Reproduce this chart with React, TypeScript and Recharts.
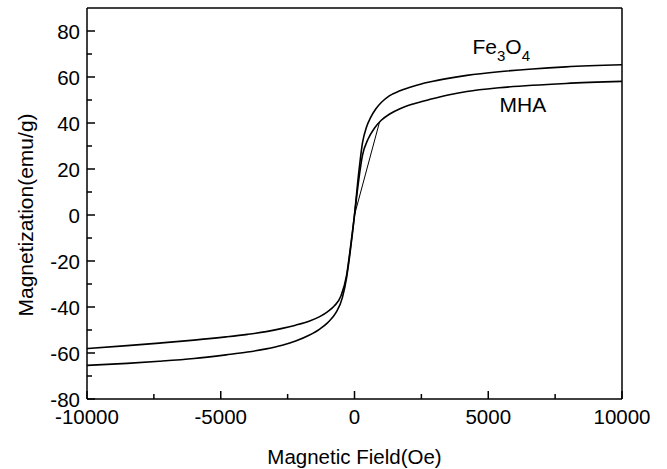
import React from 'react';
import { LineChart, Line, XAxis, YAxis, ReferenceLine, ReferenceDot } from 'recharts';

const xTicks = [-10000, -7500, -5000, -2500, 0, 2500, 5000, 7500, 10000];
const yTicks = [-80, -70, -60, -50, -40, -30, -20, -10, 0, 10, 20, 30, 40, 50, 60, 70, 80];

const fe3o4X = [-10000, -8500, -7300, -6000, -4800, -4000, -3300, -2700, -2200, -1700, -1300, -1000, -700, -450, -300, -150, 0, 150, 300, 450, 600, 800, 1000, 1300, 1700, 2200, 2800, 3500, 4200, 5400, 6650, 7900, 10000];
const fe3o4Y = [-65.4, -64.5, -63.6, -62.4, -60.8, -59.6, -58.2, -56.6, -54.8, -52.3, -49.6, -46.8, -42.6, -35.8, -27.5, -15, 0, 17.5, 31.5, 38.3, 42.3, 46.2, 48.9, 51.8, 54.0, 56.0, 57.8, 59.4, 60.7, 62.3, 63.5, 64.4, 65.3];

const mhaX = [-10000, -8500, -7300, -6000, -4800, -4000, -3300, -2700, -2200, -1700, -1300, -1000, -750, -500, -300, -150, 0, 150, 300, 500, 750, 1000, 1300, 1700, 2200, 2800, 3500, 4200, 5400, 6650, 7900, 10000];
const mhaY = [-58.1, -56.8, -55.7, -54.4, -53.0, -51.9, -50.7, -49.3, -47.9, -46.2, -44.2, -42.0, -39.5, -35, -26.5, -14, 0, 14.5, 26, 32.8, 37.8, 41.2, 43.8, 46.2, 48.3, 50.2, 52.2, 53.7, 55.3, 56.4, 57.2, 58.1];

const mhaInitX = [0, 935];
const mhaInitY = [0, 40.4];

const zip = (xs: number[], ys: number[]) => xs.map((x, i) => ({ x, y: ys[i] }));
const fe3o4Data = zip(fe3o4X, fe3o4Y);
const mhaData = zip(mhaX, mhaY);
const mhaInitData = zip(mhaInitX, mhaInitY);

const FONT = '"Liberation Sans", Arial, sans-serif';

const XTick = (props: any) => {
  const { x, y, payload } = props;
  const major = payload.value % 5000 === 0;
  return (
    <g>
      <line x1={x} y1={y} x2={x} y2={y - (major ? 8 : 5)} stroke="#000" strokeWidth={1.5} />
      {major && (
        <text x={x} y={y + 25} textAnchor="middle" fontFamily={FONT} fontSize={20.5} fill="#000">
          {payload.value}
        </text>
      )}
    </g>
  );
};

const YTick = (props: any) => {
  const { x, y, payload } = props;
  const major = payload.value % 20 === 0;
  return (
    <g>
      <line x1={x} y1={y} x2={x + (major ? 8 : 5)} y2={y} stroke="#000" strokeWidth={1.5} />
      {major && (
        <text x={x - 7} y={y + 7.5} textAnchor="end" fontFamily={FONT} fontSize={20.5} fill="#000">
          {payload.value}
        </text>
      )}
    </g>
  );
};

const XTitle = (props: any) => {
  const vb = props.viewBox;
  return (
    <text x={vb.x + vb.width / 2} y={vb.y + 65} textAnchor="middle" fontFamily={FONT} fontSize={20.5} fill="#000">
      Magnetic Field(Oe)
    </text>
  );
};

const YTitle = () => (
  <text x={33} y={215} transform="rotate(-90 33 215)" textAnchor="middle" fontFamily={FONT} fontSize={21} fill="#000">
    Magnetization(emu/g)
  </text>
);

const FeLabel = (props: any) => (
  <text x={props.cx} y={props.cy} fontFamily={FONT} fontSize={21} fill="#000">
    Fe<tspan dy={7} fontSize={15}>3</tspan>
    <tspan dy={-7} fontSize={21}>O</tspan>
    <tspan dy={7} fontSize={15}>4</tspan>
  </text>
);

const MhaLabel = (props: any) => (
  <text x={props.cx} y={props.cy} fontFamily={FONT} fontSize={21} fill="#000">
    MHA
  </text>
);

export default function App() {
  return (
    <div style={{ position: 'absolute', left: 0, top: 0, background: '#fff' }}>
      <LineChart width={667} height={469} margin={{ top: 8, right: 45, bottom: 0, left: 0 }}>
        <XAxis
          type="number"
          dataKey="x"
          domain={[-10000, 10000]}
          ticks={xTicks}
          interval={0}
          height={70}
          tickSize={0}
          tickMargin={0}
          tickLine={false}
          tick={XTick}
          axisLine={{ stroke: '#000', strokeWidth: 1.5 }}
          label={<XTitle />}
          allowDataOverflow
        />
        <YAxis
          type="number"
          dataKey="y"
          domain={[-80, 90]}
          ticks={yTicks}
          interval={0}
          width={87}
          tickSize={0}
          tickMargin={0}
          tickLine={false}
          tick={YTick}
          axisLine={{ stroke: '#000', strokeWidth: 1.5 }}
          label={<YTitle />}
          allowDataOverflow
        />
        <ReferenceLine y={90} stroke="#000" strokeWidth={1.5} />
        <ReferenceLine x={10000} stroke="#000" strokeWidth={1.5} />
        <Line data={fe3o4Data} dataKey="y" type="monotone" stroke="#000" strokeWidth={1.6} dot={false} isAnimationActive={false} />
        <Line data={mhaData} dataKey="y" type="monotone" stroke="#000" strokeWidth={1.6} dot={false} isAnimationActive={false} />
        <Line data={mhaInitData} dataKey="y" type="linear" stroke="#000" strokeWidth={1} dot={false} isAnimationActive={false} />
        <ReferenceDot x={4411} y={70.1} r={0} shape={FeLabel} />
        <ReferenceDot x={5421} y={44.7} r={0} shape={MhaLabel} />
      </LineChart>
    </div>
  );
}
